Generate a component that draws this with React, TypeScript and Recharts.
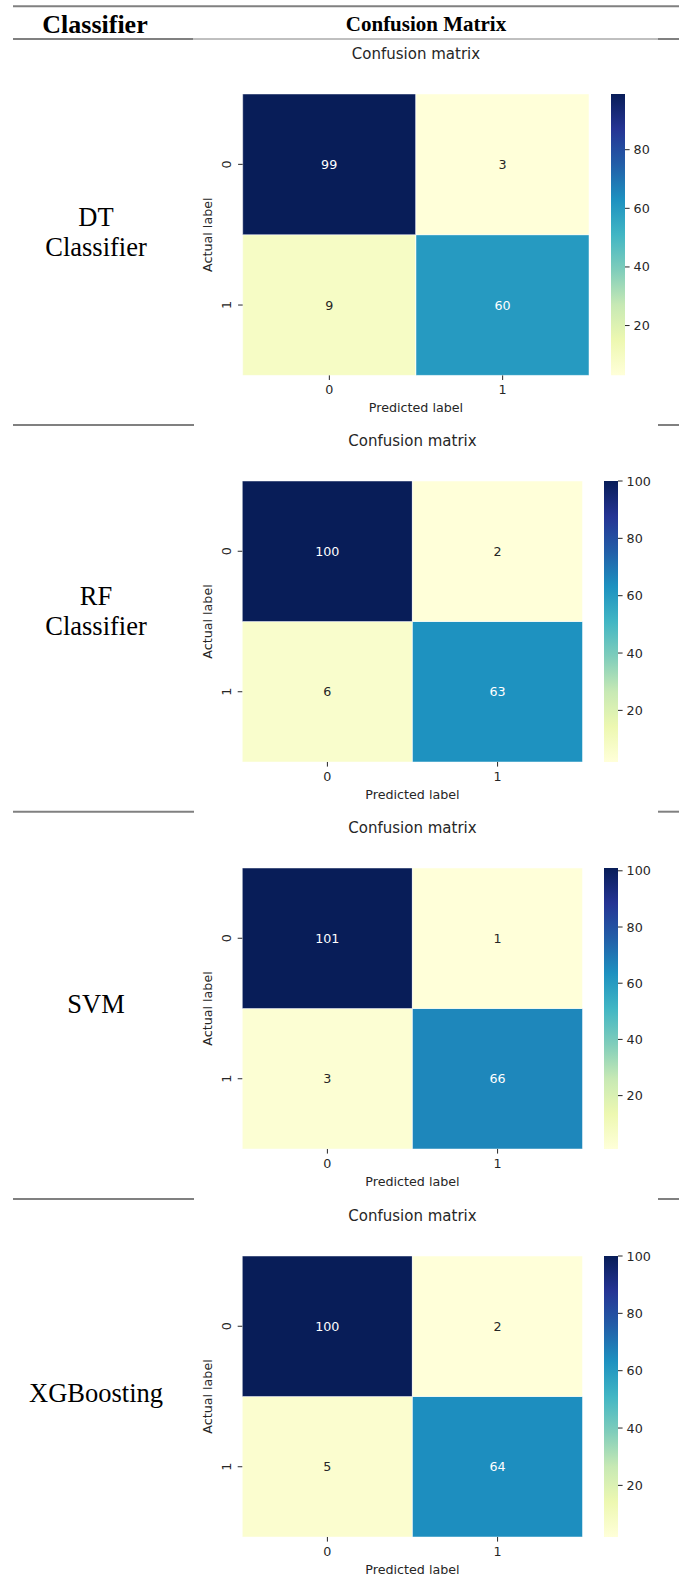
import { BarChart, Bar, XAxis, YAxis, Cell, LabelList } from 'recharts';

// classifier names (one entry per table row, split into lines)
const classifierLines = [['DT', 'Classifier'], ['RF', 'Classifier'], ['SVM'], ['XGBoosting']];
const predictedLabels = ['0', '1'];
const actualLabels = ['0', '1'];
// rows = actual label, columns = predicted label
const dtMatrix = [[99, 3], [9, 60]];
const rfMatrix = [[100, 2], [6, 63]];
const svmMatrix = [[101, 1], [3, 66]];
const xgbMatrix = [[100, 2], [5, 64]];
const matrices = [dtMatrix, rfMatrix, svmMatrix, xgbMatrix];
const colorbarTicks = [20, 40, 60, 80, 100];

const FONT = "'DejaVu Sans', sans-serif";
const SERIF = "'Liberation Serif', 'Times New Roman', serif";
const INK = '#262626';
const RULE = '#808080';

const YLGNBU = ['#ffffd9', '#edf8b1', '#c7e9b4', '#7fcdbb', '#41b6c4', '#1d91c0', '#225ea8', '#253494', '#081d58'];

const hexToRgb = (h: string) => [1, 3, 5].map((i) => parseInt(h.slice(i, i + 2), 16));

function ylgnbu(t: number) {
  const s = Math.max(0, Math.min(1, t)) * 8;
  const i = Math.min(7, Math.floor(s));
  const f = s - i;
  const a = hexToRgb(YLGNBU[i]);
  const b = hexToRgb(YLGNBU[i + 1]);
  const c = a.map((v, k) => Math.round(v + (b[k] - v) * f));
  return `rgb(${c[0]},${c[1]},${c[2]})`;
}

function luminance(rgb: string) {
  const [r, g, b] = rgb.match(/\d+/g)!.map((v) => {
    const c = Number(v) / 255;
    return c <= 0.03928 ? c / 12.92 : Math.pow((c + 0.055) / 1.055, 2.4);
  });
  return 0.2126 * r + 0.7152 * g + 0.0722 * b;
}

// where each heatmap sits on the page
const panelLayouts = [
  { heatX: 242.7, heatY: 94.3, heatW: 346.6, heatH: 281.4, cbX: 611, cbW: 14 },
  { heatX: 242.3, heatY: 481, heatW: 340.4, heatH: 281, cbX: 604.3, cbW: 14 },
  { heatX: 242.3, heatY: 868.3, heatW: 340.4, heatH: 281, cbX: 604.3, cbW: 14 },
  { heatX: 242.3, heatY: 1255.7, heatW: 340.4, heatH: 281, cbX: 604.3, cbW: 14 },
];
const labelBaselines = [[225.7, 255.7], [604.8, 634.8], [1013], [1402]];
const rowRules = [425, 811.7, 1199];

type Layout = (typeof panelLayouts)[number];

function YTick(props: any) {
  const { x, y, payload } = props;
  const n = actualLabels.length;
  const label = actualLabels[Math.round(n - 0.5 - payload.value)];
  return (
    <text x={x} y={y} transform={`rotate(-90 ${x} ${y})`} textAnchor="middle" dominantBaseline="central"
      fontSize={12.7} fontFamily={FONT} fill={INK}>
      {label}
    </text>
  );
}

const renderCount = (color: (v: number) => string) => (props: any) => {
  const vb = props.viewBox ?? props;
  const { x, y, width, height } = vb;
  const value = props.value;
  const fill = luminance(color(value)) > 0.408 ? INK : '#ffffff';
  return (
    <text x={x + width / 2} y={y + height / 2} textAnchor="middle" dominantBaseline="central"
      fontSize={12.7} fontFamily={FONT} fill={fill}>
      {value}
    </text>
  );
};

function Heatmap({ matrix, layout, id }: { matrix: number[][]; layout: Layout; id: string }) {
  const flat = matrix.flat();
  const vmin = Math.min(...flat);
  const vmax = Math.max(...flat);
  const color = (v: number) => ylgnbu((v - vmin) / (vmax - vmin));
  const n = actualLabels.length;

  const data = predictedLabels.map((p, j) => {
    const d: Record<string, string | number> = { pred: p };
    actualLabels.forEach((_, i) => {
      d[`r${i}`] = 1;
      d[`c${i}`] = matrix[i][j];
    });
    return d;
  });
  // bottom row of the heatmap is stacked first
  const stackOrder = actualLabels.map((_, i) => n - 1 - i);
  const yTicks = actualLabels.map((_, i) => n - i - 0.5);

  const left = 180;
  const axisW = 40;
  const axisH = 37;
  const chartW = layout.heatX - left + layout.heatW + 1;
  const chartH = 1 + layout.heatH + axisH + 13;
  const cbTicks = colorbarTicks.filter((t) => t >= vmin && t <= vmax);

  return (
    <>
      <div style={{ position: 'absolute', left, top: layout.heatY - 1 }}>
        <BarChart width={chartW} height={chartH} data={data} barCategoryGap={0} barGap={0}
          margin={{ top: 1, right: 1, bottom: 13, left: layout.heatX - left - axisW }}>
          <XAxis dataKey="pred" type="category" height={axisH} interval={0} axisLine={false}
            tickSize={4.6} tickMargin={5} tickLine={{ stroke: INK }}
            tick={{ fontSize: 12.7, fill: INK, fontFamily: FONT }}
            label={{ value: 'Predicted label', position: 'insideBottom', offset: 0, fontSize: 12.7, fill: INK, fontFamily: FONT }} />
          <YAxis type="number" domain={[0, n]} ticks={yTicks} width={axisW} interval={0} axisLine={false}
            tickSize={4.6} tickMargin={11.4} tickLine={{ stroke: INK }} tick={<YTick />} allowDataOverflow
            label={{ value: 'Actual label', angle: -90, position: 'insideLeft', offset: 5, fontSize: 12.7, fill: INK, fontFamily: FONT, style: { textAnchor: 'middle' } }} />
          {stackOrder.map((i) => (
            <Bar key={i} dataKey={`r${i}`} stackId="cm" isAnimationActive={false} stroke="#ffffff" strokeOpacity={0.6} strokeWidth={0.8}>
              {data.map((d, j) => (
                <Cell key={j} fill={color(d[`c${i}`] as number)} />
              ))}
              <LabelList dataKey={`c${i}`} content={renderCount(color)} />
            </Bar>
          ))}
        </BarChart>
      </div>
      <div style={{ position: 'absolute', left: layout.cbX, top: layout.heatY - 10 }}>
        <BarChart width={layout.cbW + 40} height={layout.heatH + 20} data={[{ name: 'cb', range: [vmin, vmax] }]}
          barCategoryGap={0} margin={{ top: 10, bottom: 10, left: 0, right: 0 }}>
          <defs>
            <linearGradient id={id} x1="0" y1="1" x2="0" y2="0">
              {YLGNBU.map((c, i) => (
                <stop key={i} offset={i / (YLGNBU.length - 1)} stopColor={c} />
              ))}
            </linearGradient>
          </defs>
          <XAxis dataKey="name" hide />
          <YAxis orientation="right" type="number" domain={[vmin, vmax]} ticks={cbTicks} width={40} interval={0}
            axisLine={false} tickSize={4.6} tickMargin={4} tickLine={{ stroke: INK }} allowDataOverflow
            tick={{ fontSize: 12.7, fill: INK, fontFamily: FONT }} />
          <Bar dataKey="range" fill={`url(#${id})`} isAnimationActive={false} />
        </BarChart>
      </div>
    </>
  );
}

export default function App() {
  return (
    <div style={{ position: 'absolute', left: 0, top: 0, width: 679, height: 1578, background: '#ffffff', overflow: 'hidden' }}>
      <svg width={679} height={1578} style={{ position: 'absolute', left: 0, top: 0 }}>
        <line x1={13} x2={679} y1={6.3} y2={6.3} stroke={RULE} strokeWidth={2} />
        <line x1={13} x2={193} y1={39} y2={39} stroke={RULE} strokeWidth={2} />
        <line x1={193} x2={658} y1={39} y2={39} stroke={RULE} strokeWidth={1} />
        <line x1={658} x2={679} y1={39} y2={39} stroke={RULE} strokeWidth={2} />
        {rowRules.map((y) => (
          <g key={y}>
            <line x1={13} x2={194} y1={y} y2={y} stroke={RULE} strokeWidth={2} />
            <line x1={658} x2={679} y1={y} y2={y} stroke={RULE} strokeWidth={2} />
          </g>
        ))}
        <text x={95} y={32.5} textAnchor="middle" fontFamily={SERIF} fontWeight="bold" fontSize={26}>Classifier</text>
        <text x={426} y={30.7} textAnchor="middle" fontFamily={SERIF} fontWeight="bold" fontSize={21}>Confusion Matrix</text>
        {classifierLines.map((lines, r) =>
          lines.map((t, k) => (
            <text key={`${r}-${k}`} x={96} y={labelBaselines[r][k]} textAnchor="middle" fontFamily={SERIF} fontSize={26.5} fill="#000">
              {t}
            </text>
          ))
        )}
        {panelLayouts.map((l, i) => (
          <text key={i} x={l.heatX + l.heatW / 2} y={l.heatY - 35} textAnchor="middle" fontFamily={FONT} fontSize={15} fill={INK}>
            Confusion matrix
          </text>
        ))}
      </svg>
      {matrices.map((m, i) => (
        <Heatmap key={i} matrix={m} layout={panelLayouts[i]} id={`cbar-${i}`} />
      ))}
    </div>
  );
}
